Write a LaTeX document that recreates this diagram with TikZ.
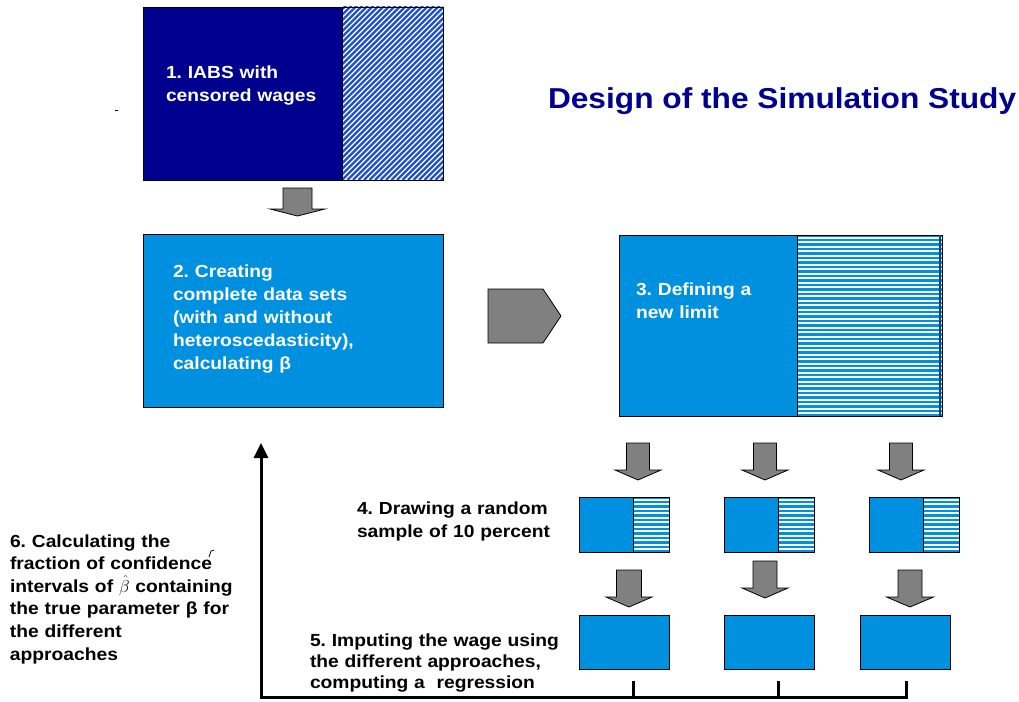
\documentclass[tikz,border=0pt]{standalone}
\usepackage{fontspec}
\setmainfont{Liberation Sans}[FakeStretch=1.1]
\usetikzlibrary{arrows.meta}

\definecolor{navy}{RGB}{0,0,143}
\definecolor{skyblue}{RGB}{0,144,224}
\definecolor{hatchblue}{RGB}{30,80,210}
\definecolor{edgeblue}{RGB}{0,70,140}
\definecolor{arrowgray}{RGB}{128,128,128}

\begin{document}
\frenchspacing
\begin{tikzpicture}[x=1pt,y=-1pt]
\tikzstyle{every node}=[inner sep=0pt,outer sep=0pt]
\tikzstyle{box}=[draw=black,line width=0.8pt,anchor=north west]
\tikzstyle{navybox}=[box,fill=navy]
\tikzstyle{bluebox}=[box,fill=skyblue]
\tikzstyle{hatchbox}=[box,fill=white,path picture={
  \foreach \i in {-34,...,20}
    \draw[hatchblue,line width=2.3pt]
      ([xshift=\i*5.5pt]path picture bounding box.south west) -- ++(220pt,220pt);}]
\tikzstyle{stripebox}=[box,fill=skyblue,path picture={
  \foreach \i in {0,...,40}
    \draw[white,line width=2pt]
      ([yshift=-2.5pt-\i*4.5pt]path picture bounding box.north west) -- ++(200pt,0pt);}]
\tikzstyle{boxtext}=[anchor=base west,text width=280pt,align=left,text=white,
  font=\bfseries\fontsize{17.5}{23}\selectfont]
\tikzstyle{steptext}=[boxtext,text=black]
\tikzstyle{grayarrow}=[draw=black,line width=0.8pt,fill=arrowgray,line join=miter]
\tikzstyle{loopline}=[line width=3pt,line join=miter]

\useasboundingbox (0,0) rectangle (1019,701);

% title
\node[anchor=base west,text=navy,font=\bfseries\fontsize{28.8}{34}\selectfont]
  (title) at (548,108) {Design of the Simulation Study};

% 1. original data
\node[navybox,minimum width=199pt,minimum height=173pt] (iabs) at (143,7) {};
\node[hatchbox,minimum width=101pt,minimum height=173pt] (iabscens) at (iabs.north east) {};
\node[boxtext] (iabstext) at ([xshift=23pt,yshift=-71pt]iabs.north west)
  {1. IABS with\\censored wages};
\draw[line width=1pt] (115,110) -- (118,110);

% 2. complete data
\node[bluebox,minimum width=300pt,minimum height=173pt] (complete) at (143,234) {};
\node[boxtext] (completetext) at ([xshift=30pt,yshift=-43pt]complete.north west)
  {2. Creating\\complete data sets\\(with and without\\heteroscedasticity),\\calculating β};

% 3. new limit
\node[bluebox,minimum width=178pt,minimum height=181pt] (limit) at (619,235) {};
\node[stripebox,minimum width=145pt,minimum height=181pt] (limitcens) at (limit.north east) {};
\draw[edgeblue,line width=1.5pt] ([xshift=-2pt]limitcens.north east) -- ([xshift=-2pt]limitcens.south east);
\node[boxtext] (limittext) at ([xshift=17pt,yshift=-60pt]limit.north west)
  {3. Defining a\\new limit};

% 4. samples
\foreach \n/\x in {a/579,b/724,c/869}{
  \node[bluebox,minimum width=54pt,minimum height=55pt] (sample\n) at (\x,497) {};
  \node[stripebox,minimum width=36pt,minimum height=55pt] (samplecens\n) at (sample\n.north east) {};
}
\node[steptext] (sampletext) at (357,514) {4. Drawing a random\\sample of 10 percent};

% 5. imputation
\foreach \n/\x in {a/579,b/724,c/860}
  \node[bluebox,minimum width=90pt,minimum height=54pt] (imputed\n) at (\x,615) {};
\node[steptext,font=\bfseries\fontsize{17.5}{21}\selectfont] (imputetext) at (310,646)
  {5. Imputing the wage using\\the different approaches,\\computing a~ regression};

% 6. coverage
\node[steptext,font=\bfseries\fontsize{17.5}{22.6}\selectfont] (coveragetext) at (10,547)
  {6. Calculating the\\fraction of confidence\\intervals of $\hat{\beta}$ containing\\the true parameter β for\\the different\\approaches};
\draw[line width=0.8pt] (209,557) -- (211,551) -- (214,550);

% gray block arrows
\foreach \cx/\ytop/\yhead/\ytip/\sw/\hw in {297.5/188/209/216/14.5/27.5,
    638/443/470/480/11.5/23, 765/443/470/480/11.5/23, 901/443/470/480/11.5/23,
    629/570/597/607/12.5/23, 765/561/588/598/12/23, 910/570/597/607/12/23.5}
  \draw[grayarrow] ({\cx-\sw},\ytop) -- ({\cx+\sw},\ytop) -- ({\cx+\sw},\yhead)
    -- ({\cx+\hw},\yhead) -- (\cx,\ytip) -- ({\cx-\hw},\yhead) -- ({\cx-\sw},\yhead) -- cycle;
\draw[grayarrow] (488,289) -- (543,289) -- (561,316) -- (543,343) -- (488,343) -- cycle;

% feedback loop
\coordinate (tickA) at (633,681);
\coordinate (tickB) at (778,681);
\coordinate (tickC) at (906,681);
\coordinate (loopcorner) at (261,697);
\coordinate (looptop) at (261,443);
\draw[loopline,-{Triangle[width=14pt,length=15pt]}] (tickC) |- (loopcorner) -- (looptop);
\foreach \t in {tickA,tickB}
  \draw[loopline] (\t) -- (\t |- loopcorner);
\end{tikzpicture}
\end{document}
